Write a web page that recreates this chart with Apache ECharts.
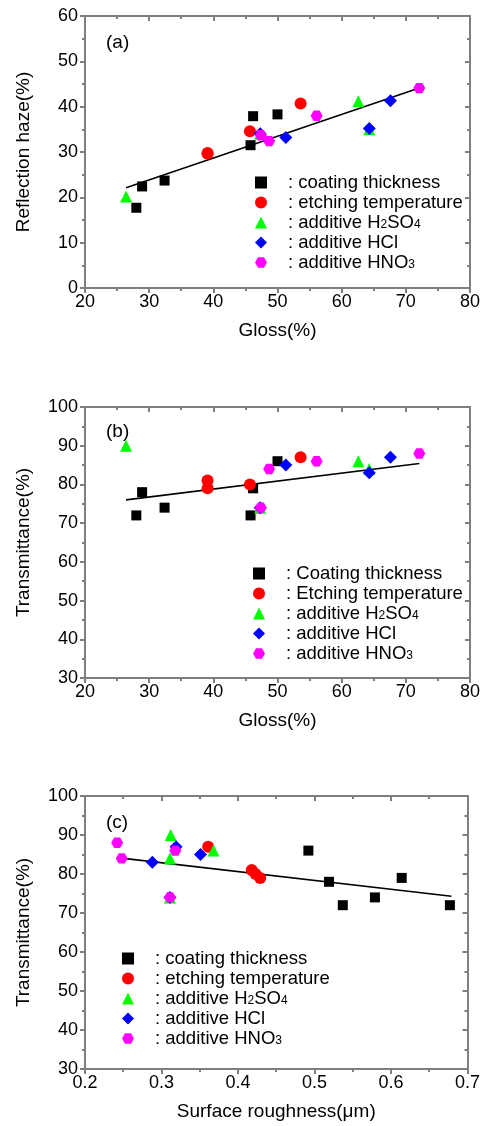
<!DOCTYPE html>
<html>
<head>
<meta charset="utf-8">
<script src="https://cdn.jsdelivr.net/npm/echarts@6/dist/echarts.min.js"></script>
<style>
html,body{margin:0;padding:0;background:#fff;}
#chart{width:483px;height:1126px;}
</style>
</head>
<body>
<div id="chart"></div>
<script>
// ---------- data ----------
const seriesNames = ['coating thickness', 'etching temperature', 'additive H2SO4', 'additive HCl', 'additive HNO3'];
const legendTextA = [': coating thickness', ': etching temperature', ': additive H2SO4', ': additive HCl', ': additive HNO3'];
const legendTextB = [': Coating thickness', ': Etching temperature', ': additive H2SO4', ': additive HCl', ': additive HNO3'];
const legendTextC = [': coating thickness', ': etching temperature', ': additive H2SO4', ': additive HCl', ': additive HNO3'];

// Panel (a): Gloss vs Reflection haze
const glossCoatA = [28.0, 28.9, 32.4, 45.8, 46.2, 50.0];
const hazeCoat   = [17.7, 22.4, 23.7, 31.5, 37.9, 38.3];
const glossEtchA = [39.1, 39.1, 45.7, 53.6];
const hazeEtch   = [29.6, 29.8, 34.6, 40.7];
const glossH2A   = [26.4, 47.3, 62.6, 64.3];
const hazeH2     = [20.2, 34.0, 41.2, 35.0];
const glossHClA  = [47.3, 51.3, 64.3, 67.6];
const hazeHCl    = [34.0, 33.2, 35.2, 41.3];
const glossHNOA  = [47.4, 48.7, 56.1, 72.1];
const hazeHNO    = [33.7, 32.4, 38.0, 44.1];
const fitGlossA  = [26.4, 72.1];
const fitHaze    = [22.1, 44.1];

// Panel (b): Gloss vs Transmittance
const glossCoatB = [28.0, 28.9, 32.4, 45.8, 46.2, 50.0];
const transCoatB = [72, 78, 74, 72, 79, 86];
const glossEtchB = [39.1, 39.1, 45.7, 53.6];
const transEtchB = [81, 79, 80, 87];
const glossH2B   = [26.4, 47.3, 62.6, 64.3];
const transH2B   = [90, 74, 86, 84];
const glossHClB  = [47.3, 51.3, 64.3, 67.6];
const transHClB  = [74, 85, 83, 87];
const glossHNOB  = [47.4, 48.7, 56.1, 72.1];
const transHNOB  = [74, 84, 86, 88];
const fitGlossB  = [26.4, 72.1];
const fitTransB  = [76.0, 85.4];

// Panel (c): Surface roughness vs Transmittance
const roughCoat  = [0.492, 0.519, 0.537, 0.579, 0.614, 0.677];
const transCoatC = [86, 78, 72, 74, 79, 72];
const roughEtch  = [0.361, 0.418, 0.423, 0.429];
const transEtchC = [87, 81, 80, 79];
const roughH2    = [0.312, 0.311, 0.311, 0.368];
const transH2C   = [90, 84, 74, 86];
const roughHCl   = [0.288, 0.319, 0.351, 0.311];
const transHClC  = [83, 87, 85, 74];
const roughHNO   = [0.242, 0.248, 0.318, 0.311];
const transHNOC  = [88, 84, 86, 74];
const fitRough   = [0.242, 0.679];
const fitTransC  = [84.2, 74.3];

// tick labels
const glossTicks = [20, 30, 40, 50, 60, 70, 80];
const hazeTicks  = [0, 10, 20, 30, 40, 50, 60];
const transTicks = [30, 40, 50, 60, 70, 80, 90, 100];
const roughTicks = [0.2, 0.3, 0.4, 0.5, 0.6, 0.7];

// ---------- styles ----------
const FONT = 'Liberation Sans, Arial, sans-serif';
const AXC = '#7f7f7f';
const colors = ['#000000', '#ff0000', '#00ff00', '#0000ff', '#ff00ff'];
const HEX = 'path://M-1,0 L-0.5,-0.866 L0.5,-0.866 L1,0 L0.5,0.866 L-0.5,0.866 Z';
const symbols = ['rect', 'circle', 'triangle', 'diamond', HEX];
const sizes = [10, 12, 12, 13, 12];

const zip = (xs, ys) => xs.map((x, i) => [x, ys[i]]);
const step = t => t[1] - t[0];

const grids = [
  {left: 85, width: 385, top: 16, height: 272},
  {left: 85, width: 385, top: 407, height: 271},
  {left: 85, width: 385, top: 796, height: 273}
];

function xAxes(g, ticks, name, dec) {
  const base = {
    gridIndex: g, type: 'value', min: ticks[0], max: ticks[ticks.length - 1], interval: step(ticks),
    axisLine: {show: true, onZero: false, lineStyle: {color: AXC, width: 2}},
    splitLine: {show: false},
    minorTick: {show: true, splitNumber: 2, length: 3, lineStyle: {color: AXC, width: 2}}
  };
  return [
    Object.assign({}, base, {
      position: 'bottom',
      axisTick: {show: true, inside: false, length: 5, lineStyle: {color: AXC, width: 2}},
      axisLabel: {show: true, color: '#000', fontSize: 18, fontFamily: FONT, margin: 5,
        formatter: v => dec ? v.toFixed(1) : String(Math.round(v))},
      name: name, nameLocation: 'middle', nameGap: 33,
      nameTextStyle: {color: '#000', fontSize: 19, fontFamily: FONT}
    }),
    Object.assign({}, base, {
      position: 'top',
      axisTick: {show: true, inside: true, length: 5, lineStyle: {color: AXC, width: 2}},
      axisLabel: {show: false}
    })
  ];
}
function yAxes(g, ticks, name) {
  const base = {
    gridIndex: g, type: 'value', min: ticks[0], max: ticks[ticks.length - 1], interval: step(ticks),
    axisLine: {show: true, onZero: false, lineStyle: {color: AXC, width: 2}},
    splitLine: {show: false},
    minorTick: {show: true, splitNumber: 2, length: 3, lineStyle: {color: AXC, width: 2}}
  };
  return [
    Object.assign({}, base, {
      position: 'left',
      axisTick: {show: true, inside: false, length: 5, lineStyle: {color: AXC, width: 2}},
      axisLabel: {show: true, color: '#000', fontSize: 18, fontFamily: FONT, margin: 7},
      name: name, nameLocation: 'middle', nameGap: 52,
      nameTextStyle: {color: '#000', fontSize: 19, fontFamily: FONT}
    }),
    Object.assign({}, base, {
      position: 'right',
      axisTick: {show: true, inside: true, length: 5, lineStyle: {color: AXC, width: 2}},
      axisLabel: {show: false}
    })
  ];
}

const panels = [
  {key: 'A', xs: [glossCoatA, glossEtchA, glossH2A, glossHClA, glossHNOA], ys: [hazeCoat, hazeEtch, hazeH2, hazeHCl, hazeHNO],
   fx: fitGlossA, fy: fitHaze, labels: legendTextA},
  {key: 'B', xs: [glossCoatB, glossEtchB, glossH2B, glossHClB, glossHNOB], ys: [transCoatB, transEtchB, transH2B, transHClB, transHNOB],
   fx: fitGlossB, fy: fitTransB, labels: legendTextB},
  {key: 'C', xs: [roughCoat, roughEtch, roughH2, roughHCl, roughHNO], ys: [transCoatC, transEtchC, transH2C, transHClC, transHNOC],
   fx: fitRough, fy: fitTransC, labels: legendTextC}
];

const series = [];
const labelMap = {};
panels.forEach((p, g) => {
  series.push({
    type: 'line', name: 'fit' + p.key, xAxisIndex: 2 * g, yAxisIndex: 2 * g,
    data: zip(p.fx, p.fy), showSymbol: false, symbol: 'none', silent: true,
    lineStyle: {color: '#000', width: 1.6}, z: 1
  });
  seriesNames.forEach((n, i) => {
    const nm = p.key + '|' + n;
    labelMap[nm] = p.labels[i];
    series.push({
      type: 'scatter', name: nm, xAxisIndex: 2 * g, yAxisIndex: 2 * g,
      data: zip(p.xs[i], p.ys[i]), symbol: symbols[i], symbolSize: sizes[i], symbolKeepAspect: true,
      itemStyle: {color: colors[i], opacity: 1}, z: 2 + i
    });
  });
});

function richLabel(name) {
  const txt = labelMap[name] || name;
  const parts = txt.split(/(\d)/);
  let out = '';
  parts.forEach(s => {
    if (s === '') return;
    if (/^\d$/.test(s)) out += '{s|' + s + '}';
    else out += (out === '' ? '{f|' : '{t|') + s + '}';
  });
  return out;
}
const legendRich = {
  f: {fontSize: 18.5, fontFamily: FONT, color: '#000', lineHeight: 17, padding: [0, 0, 0, 16]},
  t: {fontSize: 18.5, fontFamily: FONT, color: '#000', lineHeight: 17},
  s: {fontSize: 12, fontFamily: FONT, color: '#000', lineHeight: 17, verticalAlign: 'bottom'}
};
const legendPos = [{left: 255, top: 173}, {left: 253, top: 564}, {left: 122, top: 949}];
const legends = panels.map((p, g) => ({
  orient: 'vertical', left: legendPos[g].left, top: legendPos[g].top,
  data: seriesNames.map(n => p.key + '|' + n),
  itemWidth: 12, itemHeight: 12, itemGap: 1, selectedMode: false, padding: 0,
  formatter: richLabel,
  textStyle: {fontSize: 18.5, fontFamily: FONT, color: '#000', lineHeight: 17, rich: legendRich}
}));

const titles = [
  {text: '(a)', left: 106, top: 33},
  {text: '(b)', left: 106, top: 422},
  {text: '(c)', left: 106, top: 813}
].map(t => Object.assign(t, {padding: 0, textStyle: {fontSize: 19, fontWeight: 'normal', fontFamily: FONT, color: '#000'}}));

const option = {
  backgroundColor: '#fff',
  animation: false,
  title: titles,
  legend: legends,
  grid: grids,
  xAxis: [].concat(xAxes(0, glossTicks, 'Gloss(%)', false), xAxes(1, glossTicks, 'Gloss(%)', false), xAxes(2, roughTicks, 'Surface roughness(μm)', true)),
  yAxis: [].concat(yAxes(0, hazeTicks, 'Reflection haze(%)'), yAxes(1, transTicks, 'Transmittance(%)'), yAxes(2, transTicks, 'Transmittance(%)')),
  series: series
};

const chart = echarts.init(document.getElementById('chart'), null, {renderer: 'canvas'});
chart.setOption(option);
</script>
</body>
</html>
